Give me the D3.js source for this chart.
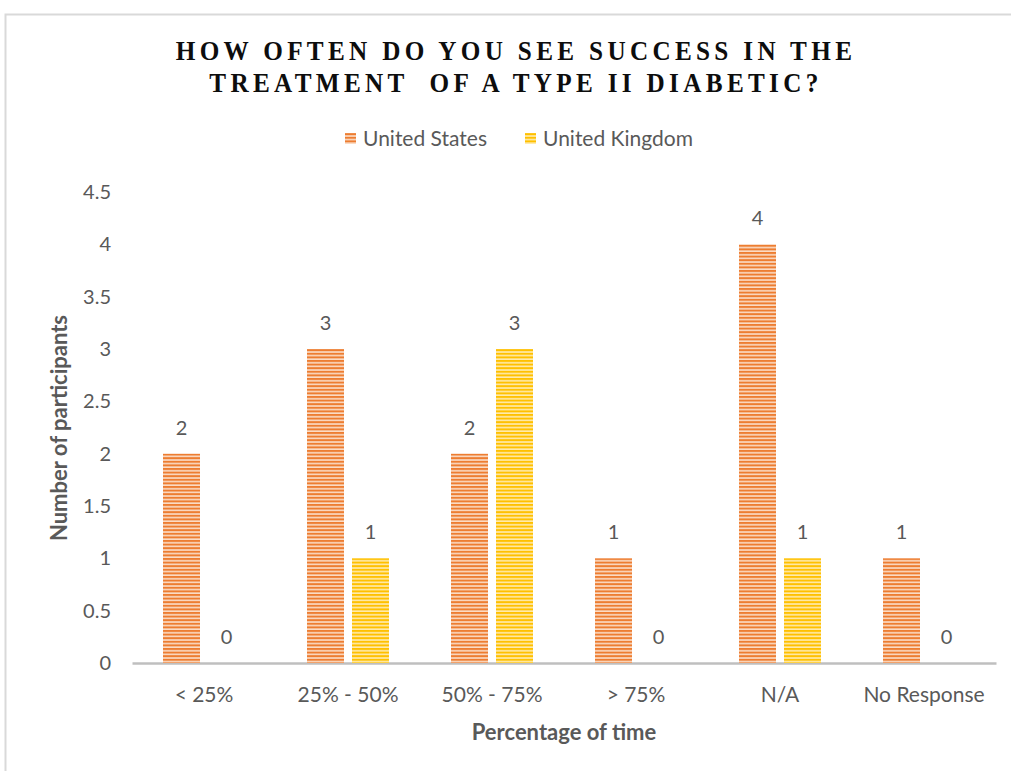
<!DOCTYPE html>
<html>
<head>
<meta charset="utf-8">
<script src="https://cdn.jsdelivr.net/npm/d3@7"></script>
<style>
  html, body { margin: 0; padding: 0; background: #fff; }
  svg { display: block; }
</style>
</head>
<body>
<svg id="chart" width="1011" height="771"></svg>
<script>
const categories = ["< 25%", "25% - 50%", "50% - 75%", "> 75%", "N/A", "No Response"];
const seriesNames = ["United States", "United Kingdom"];
const unitedStates = [2, 3, 2, 1, 4, 1];
const unitedKingdom = [0, 1, 3, 0, 1, 0];
const yTicks = [0, 0.5, 1, 1.5, 2, 2.5, 3, 3.5, 4, 4.5];
const titleLines = ["HOW OFTEN DO YOU SEE SUCCESS IN THE", "TREATMENT  OF A TYPE II DIABETIC?"];

const seriesValues = [unitedStates, unitedKingdom];
const colors = ["#ED7D31", "#FFC000"];
const lightColors = ["#FBDCC6", "#FFEBAE"];

const svg = d3.select("#chart");
const textFont = "Lato, 'Open Sans', sans-serif";

// chart frame
svg.append("rect")
  .attr("x", 5.5).attr("y", 14.5)
  .attr("width", 1040).attr("height", 800)
  .attr("fill", "none").attr("stroke", "#D9D9D9").attr("stroke-width", 2);

// striped fills
const defs = svg.append("defs");
colors.forEach((c, i) => {
  const p = defs.append("pattern")
    .attr("id", "stripe" + i)
    .attr("patternUnits", "userSpaceOnUse")
    .attr("width", 8).attr("height", 3.6);
  p.append("rect").attr("width", 8).attr("height", 3.6).attr("fill", c);
  p.append("rect").attr("y", 2.0).attr("width", 8).attr("height", 1.6).attr("fill", lightColors[i]);
});

const x = d3.scaleBand().domain(categories).range([132, 996]);
const y = d3.scaleLinear().domain([0, 4.5]).range([663, 192]);
const barW = 37, gap = 8;

// title, slightly condensed
const title = svg.append("text")
  .attr("transform", "translate(516,0) scale(0.9,1)")
  .attr("text-anchor", "middle")
  .attr("font-family", "'Liberation Serif', 'Times New Roman', serif")
  .attr("font-weight", "bold")
  .attr("font-size", 28)
  .attr("letter-spacing", 4.8)
  .attr("fill", "#0d0d0d");
titleLines.forEach((t, i) => {
  title.append("tspan")
    .attr("x", 0).attr("y", 60 + i * 32)
    .style("white-space", "pre")
    .text(t);
});

// legend
const legend = svg.append("g").attr("font-family", textFont).attr("font-size", 21).attr("fill", "#595959");
const legendX = [345, 525];
seriesNames.forEach((s, i) => {
  legend.append("rect")
    .attr("x", legendX[i]).attr("y", 133)
    .attr("width", 11).attr("height", 11)
    .attr("fill", `url(#stripe${i})`);
  legend.append("text")
    .attr("x", legendX[i] + 18).attr("y", 146)
    .attr("fill", "#595959")
    .text(s);
});

// y axis (labels only)
const yAxis = svg.append("g")
  .attr("transform", "translate(111,0)")
  .call(d3.axisLeft(y).tickValues(yTicks).tickSize(0).tickPadding(0).tickFormat(d3.format("")));
yAxis.select(".domain").remove();
yAxis.selectAll("text")
  .attr("font-family", textFont).attr("font-size", 20).attr("fill", "#595959");

// x axis
const xAxis = svg.append("g")
  .attr("transform", "translate(0,663)")
  .call(d3.axisBottom(x).tickSize(0).tickPadding(24));
xAxis.select(".domain").attr("stroke", "#BFBFBF").attr("stroke-width", 2.5);
xAxis.selectAll("text")
  .attr("font-family", textFont).attr("font-size", 21).attr("fill", "#595959");

// bars
const groups = svg.append("g").selectAll("g")
  .data(categories)
  .join("g")
  .attr("transform", d => `translate(${x(d) + x.bandwidth() / 2 - barW - gap / 2},0)`);

seriesNames.forEach((s, si) => {
  groups.append("rect")
    .attr("x", si * (barW + gap))
    .attr("y", (d, i) => y(seriesValues[si][i]))
    .attr("width", barW)
    .attr("height", (d, i) => y(0) - y(seriesValues[si][i]))
    .attr("fill", `url(#stripe${si})`);
  groups.append("text")
    .attr("x", si * (barW + gap) + barW / 2)
    .attr("y", (d, i) => y(seriesValues[si][i]) - 19)
    .attr("text-anchor", "middle")
    .attr("font-family", textFont).attr("font-size", 20).attr("fill", "#595959")
    .text((d, i) => seriesValues[si][i]);
});

// axis titles
svg.append("text")
  .attr("x", 564).attr("y", 740)
  .attr("text-anchor", "middle")
  .attr("font-family", textFont).attr("font-weight", "bold").attr("font-size", 22)
  .attr("fill", "#595959")
  .text("Percentage of time");

svg.append("text")
  .attr("transform", "translate(67,428) rotate(-90)")
  .attr("text-anchor", "middle")
  .attr("font-family", textFont).attr("font-weight", "bold").attr("font-size", 22)
  .attr("fill", "#595959")
  .text("Number of participants");
</script>
</body>
</html>
